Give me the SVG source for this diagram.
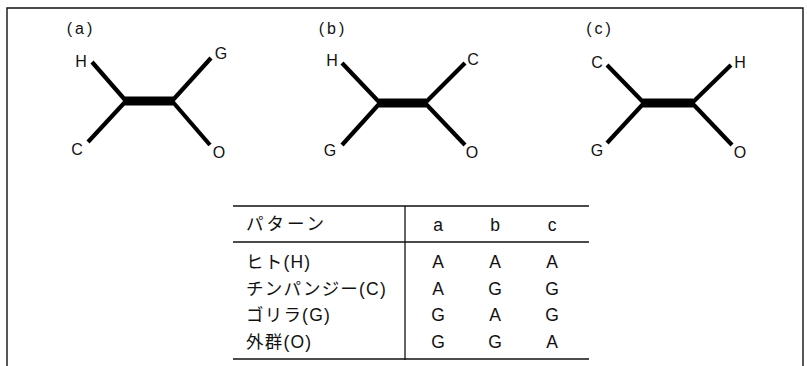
<svg xmlns="http://www.w3.org/2000/svg" width="807" height="366" viewBox="0 0 807 366">
<style>
.frame{fill:none;stroke:#111;stroke-width:1.4}
.br{stroke:#000;stroke-width:4.2;stroke-linecap:butt;fill:none}
.bar{stroke:#000;stroke-width:9;stroke-linecap:butt}
.lbl{font-family:"Liberation Sans",Arial,sans-serif;font-size:16px;fill:#111;text-anchor:middle}
.cap{font-family:"Liberation Sans",Arial,sans-serif;font-size:16px;fill:#111;text-anchor:middle;letter-spacing:3px}
.tl{stroke:#111;stroke-width:1.3}
.tx{font-family:"Liberation Sans","Noto Sans CJK JP",sans-serif;font-size:17.5px;fill:#111;letter-spacing:1.2px}
.tc{font-family:"Liberation Sans","Noto Sans CJK JP",sans-serif;font-size:17.5px;fill:#111;text-anchor:middle}
</style>
<rect width="807" height="366" fill="#fff"/>
<path class="frame" d="M7,366 V8 H803 V366"/>

<g id="tree-a">
<text class="cap" x="81" y="34">(a)</text>
<g class="connectors">
<line class="br" x1="92" y1="62" x2="126" y2="101"/>
<line class="br" x1="88" y1="142" x2="126" y2="101"/>
<line class="br" x1="211" y1="58" x2="172" y2="101"/>
<line class="br" x1="210" y1="145" x2="172" y2="101"/>
<line class="bar" x1="125" y1="101" x2="173" y2="101"/>
</g>
<text class="lbl" x="81" y="67">H</text>
<text class="lbl" x="221" y="59">G</text>
<text class="lbl" x="77" y="155">C</text>
<text class="lbl" x="219" y="158">O</text>
</g>

<g id="tree-b">
<text class="cap" x="333" y="34">(b)</text>
<g class="connectors">
<line class="br" x1="342" y1="63" x2="380" y2="103"/>
<line class="br" x1="342" y1="145" x2="380" y2="103"/>
<line class="br" x1="465" y1="63" x2="425" y2="103"/>
<line class="br" x1="465" y1="145" x2="425" y2="103"/>
<line class="bar" x1="379" y1="103" x2="426" y2="103"/>
</g>
<text class="lbl" x="332" y="66">H</text>
<text class="lbl" x="473" y="65">C</text>
<text class="lbl" x="330" y="156">G</text>
<text class="lbl" x="472" y="158">O</text>
</g>

<g id="tree-c">
<text class="cap" x="600" y="34">(c)</text>
<g class="connectors">
<line class="br" x1="607" y1="65" x2="644" y2="103"/>
<line class="br" x1="607" y1="143" x2="644" y2="103"/>
<line class="br" x1="731" y1="65" x2="692" y2="103"/>
<line class="br" x1="732" y1="145" x2="692" y2="103"/>
<line class="bar" x1="643" y1="103" x2="693" y2="103"/>
</g>
<text class="lbl" x="597" y="68">C</text>
<text class="lbl" x="740" y="68">H</text>
<text class="lbl" x="597" y="156">G</text>
<text class="lbl" x="740" y="158">O</text>
</g>

<g id="table">
<line class="tl" x1="233" y1="206" x2="589" y2="206"/>
<line class="tl" x1="233" y1="242" x2="589" y2="242"/>
<line class="tl" x1="233" y1="359" x2="589" y2="359"/>
<line class="tl" x1="405" y1="206" x2="405" y2="360"/>
<text class="tx" x="246" y="230" style="letter-spacing:3px">パターン</text>
<text class="tc" x="438" y="231">a</text>
<text class="tc" x="495" y="231">b</text>
<text class="tc" x="552" y="231">c</text>
<text class="tx" x="246" y="268">ヒト(H)</text>
<text class="tx" x="246" y="295">チンパンジー(C)</text>
<text class="tx" x="246" y="321">ゴリラ(G)</text>
<text class="tx" x="246" y="348">外群(O)</text>
<text class="tc" x="438" y="268">A</text><text class="tc" x="495" y="268">A</text><text class="tc" x="552" y="268">A</text>
<text class="tc" x="438" y="295">A</text><text class="tc" x="495" y="295">G</text><text class="tc" x="552" y="295">G</text>
<text class="tc" x="438" y="321">G</text><text class="tc" x="495" y="321">A</text><text class="tc" x="552" y="321">G</text>
<text class="tc" x="438" y="348">G</text><text class="tc" x="495" y="348">G</text><text class="tc" x="552" y="348">A</text>
</g>
</svg>
